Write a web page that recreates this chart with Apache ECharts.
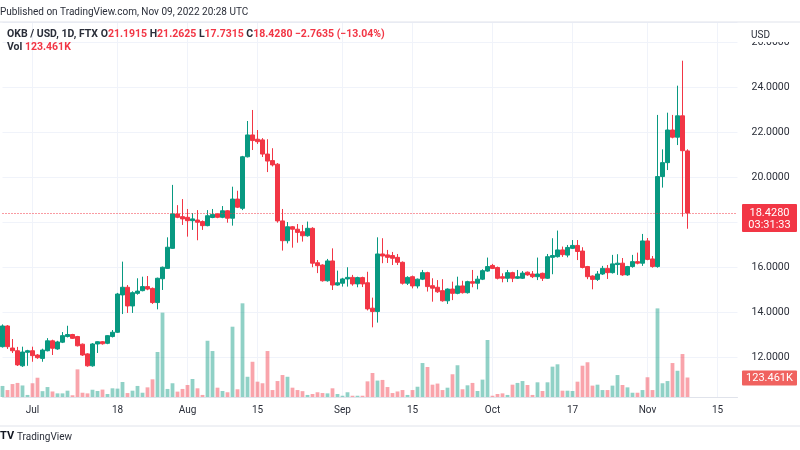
<!DOCTYPE html>
<html><head><meta charset="utf-8">
<script src="https://cdn.jsdelivr.net/npm/echarts@6/dist/echarts.min.js"></script>
<style>html,body{margin:0;padding:0;background:#fff}#c{width:800px;height:450px}</style>
</head><body><div id="c"></div>
<script>
// ---- data ----
const startDate = '2022-06-25';
const dayCount = 148; // categories incl. empty days after the last candle
const open = [12.49,13.41,12.43,12.31,11.64,12.24,12.31,12.12,11.97,12.31,
12.75,12.39,12.69,12.94,13.03,12.94,12.60,12.17,11.64,12.61,
12.71,12.64,12.94,13.13,14.79,15.13,14.30,14.86,14.98,15.16,
15.08,14.45,15.51,15.97,16.86,18.39,18.27,18.24,18.09,18.12,
18.05,17.87,18.23,18.39,18.24,18.53,18.20,19.05,18.64,20.93,
21.90,21.71,21.68,21.05,20.76,20.60,18.08,17.20,17.82,17.71,
17.60,17.42,17.75,16.22,16.12,15.42,16.30,15.23,15.31,15.50,
15.57,15.28,15.56,15.33,14.20,14.05,16.61,16.57,16.54,16.46,
16.24,15.31,15.60,15.19,15.49,15.78,15.20,15.13,14.98,14.53,
15.05,14.86,15.19,14.89,15.38,15.31,15.49,15.85,16.10,16.01,
15.60,15.53,15.78,15.53,15.53,15.80,15.72,15.60,15.75,15.53,
16.46,16.49,16.79,16.56,16.86,16.99,16.74,16.05,15.63,15.48,
15.72,15.97,15.78,16.14,16.20,15.68,16.05,16.27,16.20,17.19,
16.39,16.05,20.05,20.67,22.12,21.80,22.75,21.1915];
const close = [13.41,12.49,12.31,11.68,12.25,12.31,12.09,12.00,12.34,12.75,
12.42,12.70,12.98,13.03,12.86,12.53,12.12,11.64,12.61,12.71,
12.62,12.98,13.13,14.83,15.13,14.30,14.89,14.96,15.16,15.05,
14.45,15.53,16.02,16.91,18.39,18.24,18.17,18.09,18.17,18.02,
17.87,18.31,18.37,18.24,18.53,18.20,19.05,18.69,20.93,21.90,
21.65,21.60,21.05,20.74,20.57,18.08,17.20,17.82,17.71,17.57,
17.42,17.75,16.20,16.09,15.42,16.30,15.23,15.33,15.50,15.57,
15.28,15.56,15.28,14.17,14.05,16.61,16.52,16.46,16.42,16.24,
15.31,15.57,15.19,15.49,15.78,15.16,15.09,14.93,14.53,15.05,
14.86,15.19,14.89,15.38,15.31,15.49,15.87,16.05,15.97,15.53,
15.53,15.78,15.53,15.60,15.76,15.68,15.60,15.72,15.53,16.49,
16.54,16.79,16.58,16.90,16.99,16.72,16.01,15.60,15.48,15.72,
15.97,15.78,16.17,16.20,15.68,16.05,16.27,16.20,17.19,16.37,
16.05,20.05,20.67,22.12,21.80,22.75,21.20,18.428];
const low = [12.45,12.39,12.21,11.63,11.59,11.64,11.82,11.95,11.82,12.28,
12.12,12.35,12.65,12.90,12.83,12.50,12.08,11.60,11.60,12.21,
12.58,12.60,12.90,13.10,13.94,13.99,13.99,14.80,14.95,15.00,
14.39,14.15,15.01,15.95,16.84,18.20,17.90,17.38,17.68,17.22,
17.68,17.84,18.20,18.20,18.20,18.00,17.87,18.65,18.56,20.90,
21.23,21.50,20.92,20.25,20.50,18.00,16.76,17.08,16.89,17.11,
17.16,17.38,16.02,15.76,15.38,15.38,15.01,15.20,15.16,15.16,
15.20,15.13,15.14,14.10,13.35,13.56,16.20,16.21,16.12,16.12,
15.25,15.23,15.08,15.08,15.45,14.94,14.49,14.88,14.49,14.39,
14.56,14.82,14.85,14.85,15.13,15.04,15.45,15.82,15.94,15.48,
15.35,15.36,15.36,15.50,15.50,15.64,15.54,15.45,15.41,15.50,
15.71,16.45,16.48,16.46,16.83,16.34,15.97,15.49,15.04,15.41,
15.68,15.50,15.74,15.68,15.64,15.64,16.00,16.15,16.08,16.33,
16.00,16.00,19.56,20.34,21.75,21.45,18.27,17.7315];
const high = [13.48,13.45,12.83,12.48,12.49,12.35,12.49,12.16,12.40,12.87,
12.80,12.75,13.14,13.42,13.06,12.97,12.63,12.20,12.65,12.73,
12.74,13.00,13.23,14.88,16.27,15.23,14.95,15.53,15.60,15.63,
15.12,15.56,16.05,17.35,19.68,18.78,19.05,18.61,18.43,18.56,
18.10,18.56,18.61,18.42,18.74,18.56,19.60,19.42,20.97,22.52,
23.01,22.12,21.76,21.71,21.31,20.65,18.61,18.03,17.85,17.94,
17.90,18.05,17.80,16.34,16.15,16.39,16.86,15.87,15.55,16.02,
15.68,15.60,15.60,15.82,14.67,17.35,17.31,16.79,16.70,16.61,
16.28,15.62,15.65,15.52,15.90,15.82,15.53,15.45,15.49,15.08,
15.38,15.60,15.42,15.42,15.90,15.64,15.93,16.45,16.17,16.05,
15.75,15.90,15.82,15.90,15.85,15.83,15.85,16.45,15.78,16.61,
17.31,17.65,16.94,17.01,17.23,17.23,16.91,16.08,15.66,15.85,
16.08,16.12,16.57,16.60,16.43,16.08,16.57,16.67,17.50,17.32,
16.52,22.79,21.26,22.89,22.79,24.09,25.20,21.2625];
const volumeK = [70,44,82,89,73,13,87,122,37,63,
35,23,23,40,11,175,27,23,46,38,
47,19,55,53,95,25,40,70,27,61,
112,285,534,51,87,34,51,76,114,55,
13,356,291,59,38,30,445,49,593,128,
223,97,87,291,44,101,139,128,59,44,
37,13,19,30,25,23,55,19,8,30,
8,8,8,99,152,104,108,63,25,35,
44,13,44,65,215,190,78,85,44,59,
144,201,49,74,89,38,110,361,8,19,
23,13,78,89,101,76,13,93,38,93,
192,207,40,40,38,97,198,220,72,78,
44,44,72,139,76,61,27,27,44,125,
44,561,87,101,215,166,272,123.461];
const tickDates = ['2022-07-01','2022-07-18','2022-08-01','2022-08-15','2022-09-01','2022-09-15','2022-10-01','2022-10-17','2022-11-01','2022-11-15'];
const tickTexts = ['Jul','18','Aug','15','Sep','15','Oct','17','Nov','15'];
const priceTicks = {min: 12, interval: 2};
const countdown = '03:31:33';

// ---- build ----
const UP = '#089981', DOWN = '#f23645';
const UPV = 'rgba(8,153,129,0.45)', DOWNV = 'rgba(242,54,69,0.45)';
const dates = [];
{ const d0 = new Date(startDate + 'T00:00:00Z');
  for (let i = 0; i < dayCount; i++) { const d = new Date(d0.getTime() + i * 86400000); dates.push(d.toISOString().slice(0, 10)); } }
const tickMap = {}; tickDates.forEach((d, i) => tickMap[d] = tickTexts[i]);
const isTick = (i, v) => tickMap[v] !== undefined;
const candles = open.map((o, i) => [o, close[i], low[i], high[i]]);
const vols = volumeK.map((v, i) => ({ value: v, itemStyle: { color: close[i] >= open[i] ? UPV : DOWNV } }));
const n = close.length - 1;
const lastO = open[n], lastH = high[n], lastL = low[n], lastC = close[n];
const chg = lastC - lastO, pct = chg / lastO * 100;
const fmt4 = v => v.toFixed(4);
const minus = s => s.replace('-', '\u2212');
const font = 'Roboto, "Liberation Sans", sans-serif';
const yTop = 22, ppu = 22.5; // layout: pixels per price unit
const priceMax = priceTicks.min + (450 - 92.3 - yTop) / ppu;
const richHdr = { k: { color: '#2a2e39', fontSize: 10.5, fontFamily: font }, v: { color: DOWN, fontSize: 10.5, fontFamily: font } };

const chart = echarts.init(document.getElementById('c'), null, { renderer: 'canvas' });
chart.setOption({
  animation: false,
  backgroundColor: '#fff',
  textStyle: { fontFamily: font },
  title: [
    { text: 'Published on TradingView.com, Nov 09, 2022 20:28 UTC', left: 0, top: 7, padding: 0,
      textStyle: { fontSize: 10, fontWeight: 'normal', color: '#2a2e39', fontFamily: font } },
    { text: '{k|OKB / USD, 1D, FTX O}{v|' + fmt4(lastO) + '}{k| H}{v|' + fmt4(lastH) + '}{k| L}{v|' + fmt4(lastL) +
            '}{k| C}{v|' + fmt4(lastC) + ' ' + minus(chg.toFixed(4)) + ' (' + minus(pct.toFixed(2)) + '%)}',
      left: 7, top: 29, padding: 0, textStyle: { fontSize: 10.5, fontFamily: font, rich: richHdr } },
    { text: '{k|Vol }{v|' + volumeK[n].toFixed(3) + 'K}', left: 7, top: 42, padding: 0,
      textStyle: { fontSize: 10.5, fontFamily: font, rich: richHdr } }
  ],
  grid: [
    { left: 2.5, right: 62.5, top: yTop, bottom: 92.3 },
    { left: 2.5, right: 62.5, top: 297, bottom: 53 }
  ],
  xAxis: [
    { type: 'category', gridIndex: 0, data: dates, boundaryGap: false,
      axisLine: { show: false }, axisTick: { show: false }, axisLabel: { show: false },
      splitLine: { show: true, interval: isTick, lineStyle: { color: '#f0f3fa', width: 1 } } },
    { type: 'category', gridIndex: 1, data: dates, boundaryGap: false,
      axisLine: { show: true, lineStyle: { color: '#e0e3eb' } }, axisTick: { show: false },
      axisLabel: { interval: isTick, formatter: v => tickMap[v] || '', color: '#2a2e39', fontSize: 10, margin: 8, fontFamily: font },
      splitLine: { show: true, interval: isTick, lineStyle: { color: '#f0f3fa', width: 1 } } }
  ],
  yAxis: [
    { type: 'value', gridIndex: 0, position: 'right', min: priceTicks.min, max: priceMax, interval: priceTicks.interval,
      axisLine: { show: false }, axisTick: { show: false },
      axisLabel: { formatter: v => v.toFixed(4), color: '#2a2e39', fontSize: 10.5, margin: 14, showMaxLabel: false, fontFamily: font },
      splitLine: { show: true, lineStyle: { color: '#f0f3fa', width: 1 } } },
    { type: 'value', gridIndex: 1, min: 0, max: 633, show: false, splitLine: { show: false } }
  ],
  series: [
    { type: 'bar', xAxisIndex: 1, yAxisIndex: 1, data: vols, barWidth: 3.8, clip: false, z: 1 },
    { type: 'candlestick', xAxisIndex: 0, yAxisIndex: 0, data: candles, barWidth: 3.8, clip: false, z: 3,
      itemStyle: { color: UP, color0: DOWN, borderColor: UP, borderColor0: DOWN, borderWidth: 1 },
      markLine: { symbol: 'none', silent: true, animation: false,
        lineStyle: { color: DOWN, type: [1, 2], width: 1 }, label: { show: false },
        data: [{ yAxis: lastC }] } }
  ]
});

// price-scale tags placed through the chart's own scales
const yPrice = chart.convertToPixel({ yAxisIndex: 0 }, lastC);
const yVol = chart.convertToPixel({ yAxisIndex: 1 }, volumeK[n]);
chart.setOption({
  graphic: [
    { type: 'rect', left: 740, top: 23, shape: { width: 60, height: 19 }, style: { fill: '#fff' }, z: 50 },
    { type: 'text', left: 751, top: 30, style: { text: 'USD', fill: '#2a2e39', font: '10px ' + font }, z: 51 },
    { type: 'line', shape: { x1: 0, y1: 22, x2: 800, y2: 22 }, style: { stroke: '#e0e3eb', lineWidth: 1 }, z: 51 },
    { type: 'line', shape: { x1: 0, y1: 426, x2: 800, y2: 426 }, style: { stroke: '#e0e3eb', lineWidth: 1 }, z: 51 },
    { type: 'text', left: 0, top: 431, style: { text: 'TV', fill: '#131722', font: 'bold 11px ' + font }, z: 51 },
    { type: 'text', left: 17, top: 432, style: { text: 'TradingView', fill: '#2a2e39', font: '10px ' + font }, z: 51 },
    { type: 'rect', shape: { x: 742, y: yPrice - 9, width: 55, height: 28, r: 1 }, style: { fill: DOWN }, z: 52 },
    { type: 'text', x: 769.5, y: yPrice, style: { text: fmt4(lastC), fill: '#fff', font: '11px ' + font, align: 'center', verticalAlign: 'middle' }, z: 53 },
    { type: 'text', x: 769.5, y: yPrice + 12, style: { text: countdown, fill: '#fff', font: '11px ' + font, align: 'center', verticalAlign: 'middle' }, z: 53 },
    { type: 'rect', shape: { x: 742, y: yVol - 7, width: 55, height: 15, r: 1 }, style: { fill: '#f0625f' }, z: 52 },
    { type: 'text', x: 769.5, y: yVol + 0.5, style: { text: volumeK[n].toFixed(3) + 'K', fill: '#fff', font: '11px ' + font, align: 'center', verticalAlign: 'middle' }, z: 53 }
  ]
});
</script></body></html>
